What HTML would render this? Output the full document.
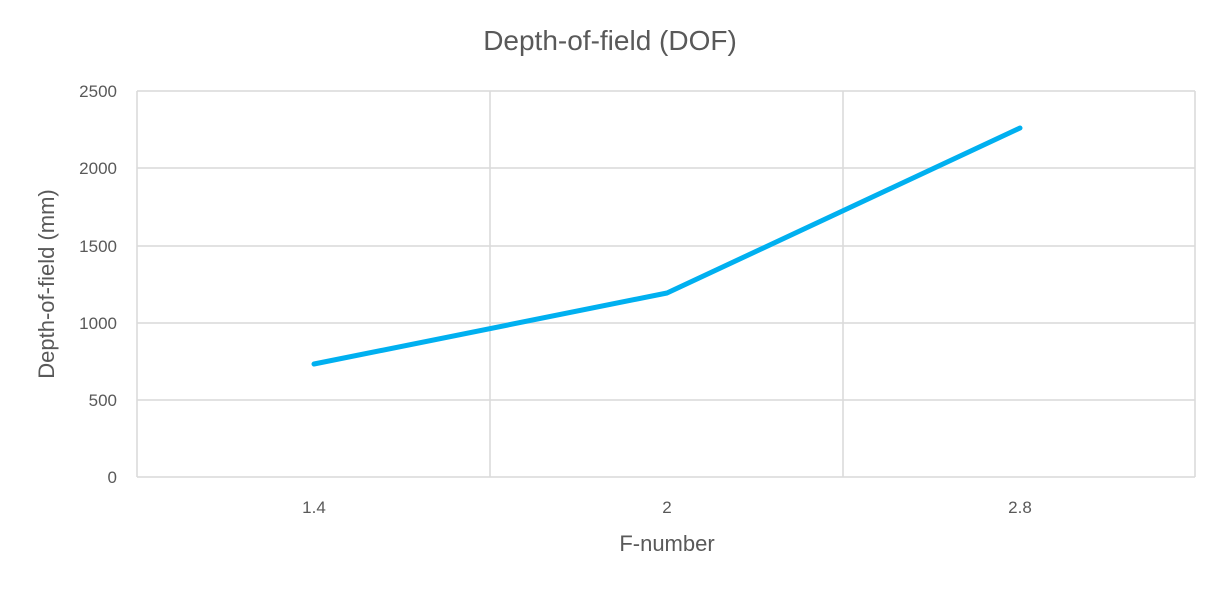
<!DOCTYPE html>
<html><head><meta charset="utf-8"><style>
html,body{margin:0;padding:0;background:#fff;}
svg{display:block;font-family:"Liberation Sans",sans-serif;}
</style></head><body>
<svg width="1221" height="589" viewBox="0 0 1221 589" xmlns="http://www.w3.org/2000/svg">
<rect width="1221" height="589" fill="#fff"/>
<text x="610" y="50" text-anchor="middle" font-size="28" fill="#595959">Depth-of-field (DOF)</text>
<g stroke="#d9d9d9" stroke-width="1.5" fill="none">
<line x1="137" y1="91" x2="1195" y2="91"/>
<line x1="137" y1="168" x2="1195" y2="168"/>
<line x1="137" y1="246" x2="1195" y2="246"/>
<line x1="137" y1="323" x2="1195" y2="323"/>
<line x1="137" y1="400" x2="1195" y2="400"/>
<line x1="137" y1="477" x2="1195" y2="477"/>
<line x1="137" y1="91" x2="137" y2="477"/>
<line x1="490" y1="91" x2="490" y2="477"/>
<line x1="843" y1="91" x2="843" y2="477"/>
<line x1="1195" y1="91" x2="1195" y2="477"/>
</g>
<g font-size="17" fill="#595959" text-anchor="end">
<text x="117" y="97">2500</text>
<text x="117" y="174">2000</text>
<text x="117" y="252">1500</text>
<text x="117" y="329">1000</text>
<text x="117" y="406">500</text>
<text x="117" y="483">0</text>
</g>
<g font-size="17" fill="#595959" text-anchor="middle">
<text x="314" y="513">1.4</text>
<text x="667" y="513">2</text>
<text x="1020" y="513">2.8</text>
</g>
<text x="667" y="551" text-anchor="middle" font-size="22" fill="#595959">F-number</text>
<text transform="translate(54,284) rotate(-90)" text-anchor="middle" font-size="22" fill="#595959">Depth-of-field (mm)</text>
<polyline points="314,364 667,293 1020,128" fill="none" stroke="#00b0f0" stroke-width="5" stroke-linecap="round" stroke-linejoin="round"/>
</svg>
</body></html>
